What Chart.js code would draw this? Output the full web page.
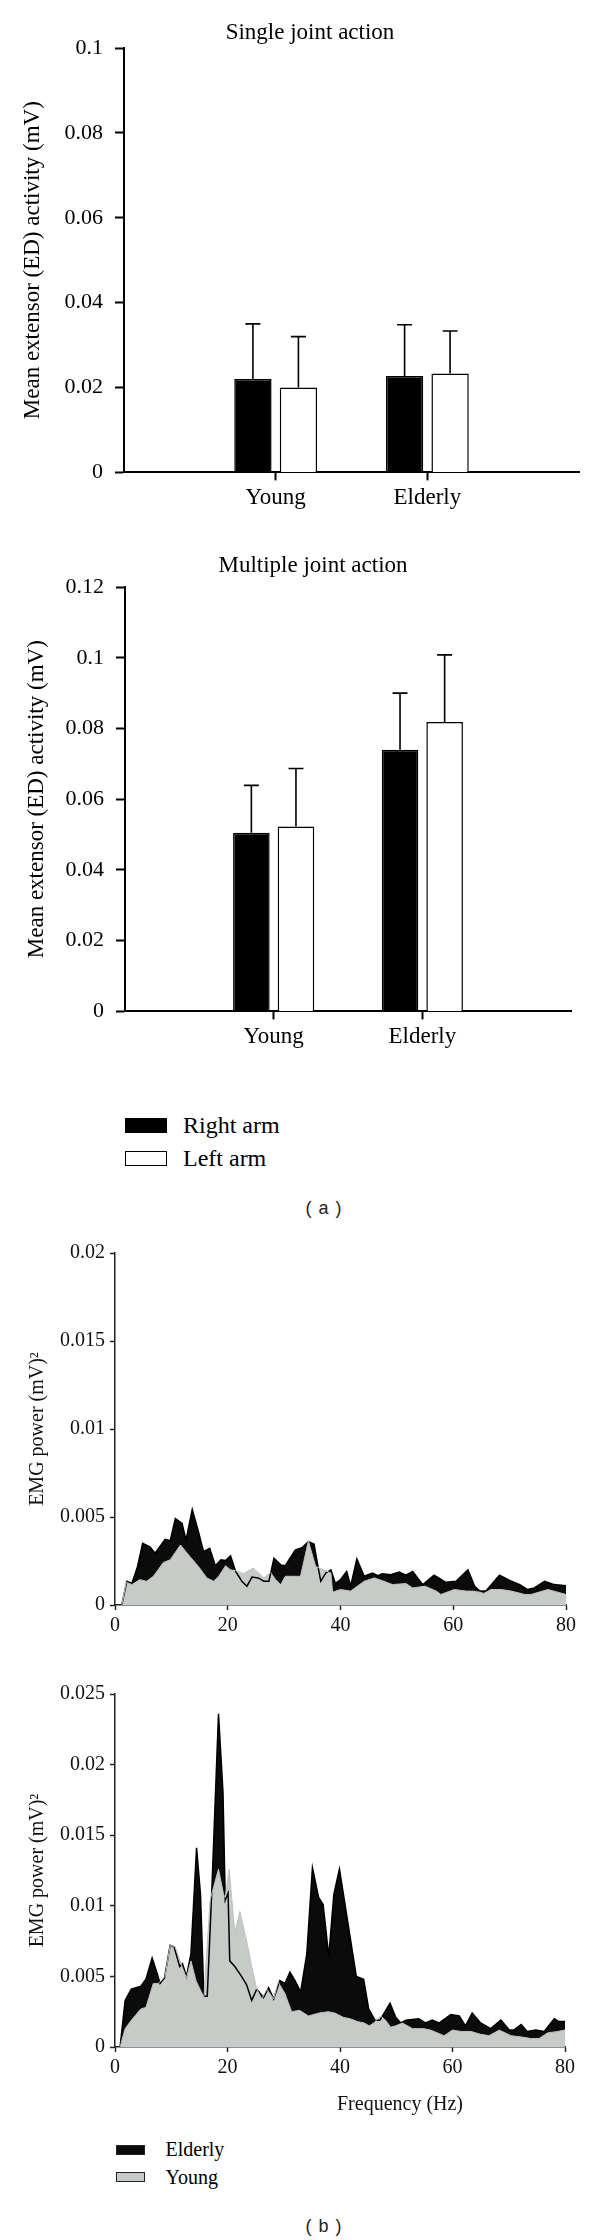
<!DOCTYPE html>
<html lang="en">
<head>
<meta charset="utf-8">
<title>Extensor activity and EMG power</title>
<script src="https://cdn.jsdelivr.net/npm/chart.js@4.4.0/dist/chart.umd.min.js"></script>
<style>
    body { margin: 0; background: #fff; }
    #page { position: relative; width: 600px; height: 2240px; font-family: "Liberation Serif", "Times New Roman", serif; color: #000; }
    #page canvas { position: absolute; left: 0; }
    .legend { position: absolute; margin: 0; padding: 0; list-style: none; }
    .legend li { display: flex; align-items: center; white-space: nowrap; }
    .caption { position: absolute; left: 264px; width: 120px; text-align: center; font: 18px/22px "Liberation Sans", Arial, sans-serif; letter-spacing: 1px; color: #222; }
</style>
</head>
<body>
<div id="page">
    <canvas id="single" width="600" height="520" style="top:0px"></canvas>
    <canvas id="multiple" width="600" height="540" style="top:520px"></canvas>
    <ul id="legend-a" class="legend" style="left:125px; top:1109px"></ul>
    <div class="caption" style="top:1197px">( a )</div>
    <canvas id="power-single" width="600" height="425" style="top:1225px"></canvas>
    <canvas id="power-multiple" width="600" height="460" style="top:1665px"></canvas>
    <ul id="legend-b" class="legend" style="left:116px; top:2136px"></ul>
    <div class="caption" style="top:2215px">( b )</div>
</div>
<script>
// ---- panel (a): mean extensor (ED) activity, mV ----
const groups = ['Young', 'Elderly']
const singleRight = [0.022, 0.0227]
const singleRightSd = [0.013, 0.0121]
const singleLeft = [0.020, 0.0233]
const singleLeftSd = [0.012, 0.010]
const multipleRight = [0.0505, 0.074]
const multipleRightSd = [0.0134, 0.016]
const multipleLeft = [0.0523, 0.0818]
const multipleLeftSd = [0.0164, 0.019]

// ---- panel (b): EMG power spectra, (mV)^2 vs Hz ----
const singleElderlyHz = [1.2, 2.1, 3.0, 4.0, 4.9, 6.2, 7.1, 8.9, 9.8, 10.7, 11.9, 12.6, 13.7, 14.8, 15.7, 16.8, 17.8, 18.8, 19.6, 20.5, 21.4, 22.5, 23.4, 24.3, 25.4, 26.4, 27.3, 28.2, 29.4, 30.2, 32.0, 33.2, 34.3, 35.3, 36.0, 36.5, 37.4, 38.3, 39.1, 40.0, 41.1, 41.8, 42.9, 44.2, 45.7, 46.6, 47.4, 48.9, 50.4, 51.6, 52.8, 54.6, 56.6, 58.7, 60.5, 62.6, 63.8, 64.7, 65.8, 68.2, 70.0, 71.8, 73.2, 74.4, 76.2, 77.9, 80.0]
const singleElderlyPow = [0, 0.00135, 0.00122, 0.00219, 0.0035, 0.00331, 0.00294, 0.00373, 0.00365, 0.00491, 0.00463, 0.00369, 0.00543, 0.00416, 0.00303, 0.00322, 0.00223, 0.00257, 0.00253, 0.00279, 0.00191, 0.00135, 0.00107, 0.00159, 0.00154, 0.00135, 0.00135, 0.00266, 0.00228, 0.00223, 0.00313, 0.00326, 0.0036, 0.00346, 0.00219, 0.00135, 0.00182, 0.002, 0.00122, 0.00144, 0.00191, 0.00107, 0.00262, 0.00163, 0.00182, 0.00167, 0.00178, 0.00172, 0.00187, 0.00169, 0.00191, 0.00116, 0.00169, 0.00129, 0.00135, 0.002, 0.00107, 0.00079, 0.00079, 0.00169, 0.0014, 0.00116, 0.00088, 0.00097, 0.00135, 0.00116, 0.0011]
const singleYoungHz = [1.2, 2.0, 3.0, 4.4, 5.6, 6.8, 8.6, 9.8, 11.6, 13.3, 14.8, 16.3, 17.5, 18.4, 19.6, 20.5, 21.4, 22.8, 24.5, 25.5, 26.4, 27.6, 28.5, 29.4, 30.2, 32.9, 34.3, 35.6, 37.0, 38.3, 38.6, 40.0, 41.8, 44.2, 46.0, 47.7, 49.2, 51.6, 52.8, 55.0, 57.0, 57.8, 60.2, 62.3, 63.5, 64.7, 65.4, 66.7, 68.5, 70.3, 72.7, 73.8, 76.8, 80.0]
const singleYoungPow = [0, 0.00129, 0.00116, 0.00144, 0.00135, 0.00163, 0.00242, 0.00257, 0.00341, 0.00275, 0.00219, 0.00154, 0.00135, 0.00163, 0.00223, 0.002, 0.00195, 0.00178, 0.0021, 0.00182, 0.00154, 0.00185, 0.00144, 0.00116, 0.00163, 0.00163, 0.00363, 0.00219, 0.002, 0.00182, 0.00073, 0.00088, 0.00079, 0.00135, 0.00154, 0.00135, 0.00116, 0.00122, 0.00097, 0.00107, 0.00079, 0.0006, 0.00088, 0.00079, 0.00079, 0.00073, 0.00066, 0.00088, 0.00088, 0.00079, 0.0006, 0.0006, 0.00088, 0.0006]

const multipleElderlyHz = [0.9, 1.8, 2.9, 4.6, 5.5, 6.6, 7.5, 8.0, 8.8, 9.8, 10.5, 11.5, 12.0, 12.7, 13.5, 14.5, 15.2, 15.8, 16.4, 17.2, 18.4, 19.2, 19.6, 20.1, 20.4, 21.3, 22.5, 23.4, 24.3, 25.2, 26.4, 27.3, 28.2, 29.3, 30.2, 31.1, 32.0, 33.0, 34.1, 35.1, 36.2, 37.0, 38.0, 38.9, 39.9, 42.9, 44.2, 45.1, 46.2, 47.1, 48.9, 49.9, 50.8, 51.7, 54.0, 55.2, 56.4, 57.6, 59.7, 61.2, 62.3, 63.5, 65.0, 66.8, 68.6, 70.1, 70.9, 72.2, 73.3, 74.8, 76.3, 78.1, 78.9, 80.0]
const multipleElderlyPow = [0, 0.0033, 0.0041, 0.0043, 0.0048, 0.0063, 0.0052, 0.0045, 0.0049, 0.0072, 0.0071, 0.0057, 0.0059, 0.0050, 0.0066, 0.0141, 0.0108, 0.0036, 0.0036, 0.0110, 0.0236, 0.0180, 0.0104, 0.0109, 0.0061, 0.0057, 0.0050, 0.0044, 0.0033, 0.0041, 0.0035, 0.0042, 0.0034, 0.0047, 0.0045, 0.0053, 0.0047, 0.0039, 0.0066, 0.0127, 0.0106, 0.0101, 0.0064, 0.0108, 0.0126, 0.0050, 0.0048, 0.0027, 0.0019, 0.0019, 0.0031, 0.0021, 0.0017, 0.0019, 0.0020, 0.0017, 0.0019, 0.0017, 0.0023, 0.0022, 0.0015, 0.0024, 0.0017, 0.0013, 0.0019, 0.0012, 0.0012, 0.0016, 0.0011, 0.0012, 0.0011, 0.0020, 0.0018, 0.0018]
const multipleYoungHz = [0.9, 1.8, 2.9, 4.6, 5.5, 6.8, 7.7, 8.9, 9.8, 10.7, 11.9, 12.7, 13.5, 14.4, 15.1, 15.8, 16.9, 18.4, 19.3, 19.6, 20.3, 21.3, 22.2, 23.4, 24.3, 25.2, 26.1, 27.0, 28.2, 29.0, 30.2, 31.4, 32.8, 34.4, 36.2, 37.9, 39.1, 40.6, 41.8, 43.1, 44.3, 45.2, 46.0, 47.2, 48.1, 49.0, 49.9, 51.1, 52.9, 54.9, 56.1, 58.5, 60.0, 61.5, 63.3, 65.0, 66.5, 68.3, 70.4, 72.4, 73.9, 75.4, 76.9, 78.7, 80.0]
const multipleYoungPow = [0, 0.0013, 0.0019, 0.0027, 0.0028, 0.0045, 0.0045, 0.0050, 0.0072, 0.0071, 0.0057, 0.0049, 0.0061, 0.0047, 0.0041, 0.0035, 0.0104, 0.0126, 0.0108, 0.0106, 0.0126, 0.0081, 0.0096, 0.0075, 0.0057, 0.0041, 0.0034, 0.0041, 0.0034, 0.0046, 0.0038, 0.0025, 0.0026, 0.0022, 0.0024, 0.0025, 0.0024, 0.0021, 0.0020, 0.0018, 0.0017, 0.0015, 0.0017, 0.0022, 0.0019, 0.0014, 0.0015, 0.0017, 0.0013, 0.0013, 0.0012, 0.0008, 0.0012, 0.0011, 0.0011, 0.0009, 0.0008, 0.0012, 0.0008, 0.0007, 0.0006, 0.0006, 0.0010, 0.0011, 0.0012]

Chart.defaults.font.family = '"Liberation Serif", "Times New Roman", serif'
Chart.defaults.color = '#000'

const fmt = (value) => String(Math.round(value * 10000) / 10000)
const padded = (arr) => [null, ...arr, null]   // blank slots at both axis ends
const toPoints = (xs, ys) => xs.map((x, i) => ({ x: x, y: ys[i] }))

// draws the +SD whisker on top of every bar
const errorBars = {
    id: 'errorBars',
    afterDatasetsDraw(chart) {
        const ctx = chart.ctx
        const yScale = chart.scales.y
        chart.data.datasets.forEach((ds, i) => {
            if (!ds.sd) return
            chart.getDatasetMeta(i).data.forEach((bar, j) => {
                const mean = ds.data[j]
                const sd = ds.sd[j]
                if (mean == null || sd == null) return
                const top = yScale.getPixelForValue(mean + sd)
                ctx.save()
                ctx.strokeStyle = '#000'
                ctx.lineWidth = 1.6
                ctx.beginPath()
                ctx.moveTo(bar.x, bar.y)
                ctx.lineTo(bar.x, top)
                ctx.moveTo(bar.x - 7.5, top)
                ctx.lineTo(bar.x + 7.5, top)
                ctx.stroke()
                ctx.restore()
            })
        })
    }
}

// legend written as html list under the chart
const htmlLegend = {
    id: 'htmlLegend',
    afterUpdate(chart, args, opts) {
        const list = document.getElementById(opts.containerID)
        if (!list) return
        list.innerHTML = ''
        chart.data.datasets.forEach(ds => {
            const li = document.createElement('li')
            li.style.height = opts.rowHeight + 'px'
            li.style.fontSize = opts.fontSize + 'px'
            const box = document.createElement('span')
            box.style.cssText = 'display:inline-block;box-sizing:border-box;' +
                'width:' + opts.boxWidth + 'px;height:' + opts.boxHeight + 'px;' +
                'margin-right:' + opts.gap + 'px;background:' + ds.backgroundColor + ';' +
                'border:' + opts.boxBorder + 'px solid ' + (opts.boxBorderColor || '#000')
            const text = document.createElement('span')
            text.textContent = ds.label
            li.append(box, text)
            list.appendChild(li)
        })
    }
}

const barChart = (canvasId, titleText, yMax, right, rightSd, left, leftSd, lay) => {
    const config = {
        type: 'bar',
        data: {
            labels: ['', ...groups, ''],
            datasets: [
                {
                    label: 'Right arm',
                    data: padded(right),
                    sd: padded(rightSd),
                    backgroundColor: '#000',
                    borderColor: '#000',
                    borderWidth: 1.5,
                },
                {
                    label: 'Left arm',
                    data: padded(left),
                    sd: padded(leftSd),
                    backgroundColor: '#fff',
                    borderColor: '#000',
                    borderWidth: 1.5,
                }
            ]
        },
        options: {
            responsive: false,
            animation: false,
            devicePixelRatio: 1,
            categoryPercentage: 0.6,
            barPercentage: 0.82,
            layout: { padding: lay.padding },
            plugins: {
                legend: { display: false },
                tooltip: { enabled: false },
                title: {
                    display: true,
                    text: titleText,
                    color: '#000',
                    font: { size: 23, weight: 'normal' },
                    padding: lay.titlePadding,
                },
                htmlLegend: lay.legend || {},
            },
            scales: {
                x: {
                    type: 'category',
                    offset: false,
                    grid: {
                        offset: false,
                        drawOnChartArea: false,
                        tickLength: 8,
                        tickWidth: 2,
                        tickColor: (ctx) => (ctx.tick && ctx.tick.label) ? '#000' : 'rgba(0,0,0,0)',
                    },
                    border: { color: '#000', width: 2 },
                    ticks: { autoSkip: false, maxRotation: 0, padding: 4, color: '#000', font: { size: 23 } },
                },
                y: {
                    min: 0,
                    max: yMax,
                    grid: { drawOnChartArea: false, tickLength: 9, tickWidth: 2, tickColor: '#000' },
                    border: { color: '#000', width: 2 },
                    ticks: { stepSize: 0.02, padding: 12, color: '#000', font: { size: 22 }, callback: fmt },
                    title: {
                        display: true,
                        text: 'Mean extensor (ED) activity (mV)',
                        color: '#000',
                        font: { size: 23 },
                        padding: { top: lay.yTitleTop, bottom: 0 },
                    },
                    afterFit: (scale) => { scale.width = lay.yWidth },
                }
            }
        },
        plugins: [errorBars, htmlLegend],
    }
    return new Chart(document.getElementById(canvasId), config)
}

const powerChart = (canvasId, elderlyHz, elderlyPow, youngHz, youngPow, yMax, lay) => {
    const config = {
        type: 'line',
        data: {
            datasets: [
                {
                    label: 'Elderly',
                    data: toPoints(elderlyHz, elderlyPow),
                    order: 2,
                    fill: 'origin',
                    backgroundColor: '#0b0b0b',
                    borderColor: '#000',
                    borderWidth: 1.5,
                    pointRadius: 0,
                    tension: 0,
                },
                {
                    label: 'Young',
                    data: toPoints(youngHz, youngPow),
                    order: 1,
                    fill: 'origin',
                    backgroundColor: '#c6cbc7',
                    borderColor: '#bcc2bd',
                    borderWidth: 1,
                    pointRadius: 0,
                    tension: 0,
                }
            ]
        },
        options: {
            responsive: false,
            animation: false,
            devicePixelRatio: 1,
            layout: { padding: lay.padding },
            plugins: {
                legend: { display: false },
                tooltip: { enabled: false },
                filler: { drawTime: 'beforeDatasetsDraw' },
                htmlLegend: lay.legend || {},
            },
            scales: {
                x: {
                    type: 'linear',
                    min: 0,
                    max: 80,
                    grid: { drawOnChartArea: false, tickLength: 5, tickWidth: 1.5, tickColor: '#222' },
                    border: { color: '#222', width: 1.5 },
                    ticks: { stepSize: 20, padding: 4, color: '#111', font: { size: 20 } },
                    title: {
                        display: !!lay.xTitle,
                        text: lay.xTitle || '',
                        color: '#111',
                        font: { size: 20 },
                        padding: { top: 9, bottom: 0 },
                    },
                },
                y: {
                    min: 0,
                    max: yMax,
                    grid: { drawOnChartArea: false, tickLength: 5, tickWidth: 1.5, tickColor: '#222' },
                    border: { color: '#222', width: 1.5 },
                    ticks: { stepSize: 0.005, padding: 5, color: '#111', font: { size: 20 }, callback: fmt },
                    title: {
                        display: true,
                        text: 'EMG power (mV)²',
                        color: '#111',
                        font: { size: 20 },
                        padding: { top: 26, bottom: 0 },
                    },
                    afterFit: (scale) => { scale.width = 115 },
                }
            }
        },
        plugins: [htmlLegend],
    }
    return new Chart(document.getElementById(canvasId), config)
}

barChart('single', 'Single joint action', 0.1,
    singleRight, singleRightSd, singleLeft, singleLeftSd, {
        padding: { top: 0, right: 21, bottom: 4, left: 41 },
        titlePadding: { top: 19, bottom: 1.4 },
        yWidth: 83,
        yTitleTop: -21.8,
    })

barChart('multiple', 'Multiple joint action', 0.12,
    multipleRight, multipleRightSd, multipleLeft, multipleLeftSd, {
        padding: { top: 0, right: 29, bottom: 5, left: 55 },
        titlePadding: { top: 32, bottom: 7.4 },
        yWidth: 70,
        yTitleTop: -31.8,
        legend: { containerID: 'legend-a', rowHeight: 33, fontSize: 24, boxWidth: 42, boxHeight: 15, boxBorder: 1.5, gap: 16 },
    })

powerChart('power-single', singleElderlyHz, singleElderlyPow, singleYoungHz, singleYoungPow, 0.02, {
    padding: { top: 28, right: 34, bottom: 8, left: 0 },
})

powerChart('power-multiple', multipleElderlyHz, multipleElderlyPow, multipleYoungHz, multipleYoungPow, 0.025, {
    padding: { top: 29, right: 35, bottom: 8, left: 0 },
    xTitle: '\u2003\u2003\u2003\u2003\u2003\u2003Frequency (Hz)',
    legend: { containerID: 'legend-b', rowHeight: 27.5, fontSize: 20, boxWidth: 29, boxHeight: 10, boxBorder: 1.5, boxBorderColor: '#222', gap: 20.5 },
})
</script>
</body>
</html>
